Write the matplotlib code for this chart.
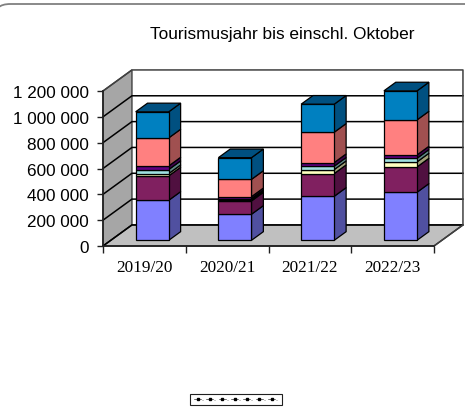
import matplotlib
matplotlib.use("Agg")
import matplotlib.pyplot as plt
from matplotlib.lines import Line2D
from matplotlib.patches import FancyBboxPatch, Polygon

YEARS = ["2019/20", "2020/21", "2021/22", "2022/23"]
Y_TICKS = [0, 200000, 400000, 600000, 800000, 1000000, 1200000]
Y_LABELS = ["0", "200 000", "400 000", "600 000", "800 000", "1 000 000", "1 200 000"]
TITLE = "Tourismusjahr bis einschl. Oktober"

# stacked from the floor upwards, names of the series are unreadable in the legend
SERIES_1 = [310000, 202000, 341000, 372000]
SERIES_2 = [189000, 103000, 176000, 196000]
SERIES_3 = [18000, 8000, 31000, 39000]
SERIES_4 = [31000, 10000, 26000, 28000]
SERIES_5 = [28000, 15000, 28000, 26000]
SERIES_6 = [217000, 134000, 235000, 271000]
SERIES_7 = [202000, 168000, 217000, 225000]

FRONT_COLORS = ["#8080ff", "#802060", "#ffffc0", "#a0e0e0", "#600080", "#ff8080", "#0080c0"]
SIDE_COLORS = ["#5050a0", "#501040", "#a0a078", "#608888", "#400050", "#a05050", "#005080"]
TOP_COLOR = "#005080"

# depth of the fake 3d box, in data units
DEPTH_X = 0.35
DEPTH_Y = 163000
BAR_WIDTH = 0.40
BAR_START = 0.27
BAR_DEPTH = 0.41


def shift(x, y, depth):
    return (x + DEPTH_X * depth, y + DEPTH_Y * depth)


def draw_box(ax):
    x_max = len(YEARS)
    y_max = Y_TICKS[-1]
    ax.add_patch(Polygon([shift(0, 0, 0), shift(0, 0, 1), shift(0, y_max, 1), shift(0, y_max, 0)],
                         facecolor="#a6a6a6", edgecolor="#404040", lw=1, clip_on=False, zorder=1))
    ax.add_patch(Polygon([shift(0, 0, 0), shift(x_max, 0, 0), shift(x_max, 0, 1), shift(0, 0, 1)],
                         facecolor="#c0c0c0", edgecolor="#202020", lw=1, clip_on=False, zorder=1))
    for tick in Y_TICKS[:-1]:
        ax.plot(*zip(shift(0, tick, 0), shift(0, tick, 1), shift(x_max, tick, 1)),
                color="black", lw=1.1, clip_on=False, zorder=1.5)
    ax.plot(*zip(shift(0, y_max, 0), shift(0, y_max, 1), shift(x_max, y_max, 1), shift(x_max, 0, 1), shift(x_max, 0, 0)),
            color="#404040", lw=1.1, clip_on=False, zorder=1.5)


def draw_bars(ax):
    series = [SERIES_1, SERIES_2, SERIES_3, SERIES_4, SERIES_5, SERIES_6, SERIES_7]
    base_x, base_y = shift(0, 0, BAR_START)
    for i in range(len(YEARS)):
        left = i + 0.5 + base_x - BAR_WIDTH / 2
        right = left + BAR_WIDTH
        bottom = base_y
        for values, front, side in zip(series, FRONT_COLORS, SIDE_COLORS):
            top = bottom + values[i]
            ax.add_patch(Polygon([(right, bottom), shift(right, bottom, BAR_DEPTH),
                                  shift(right, top, BAR_DEPTH), (right, top)],
                                 facecolor=side, edgecolor="black", lw=0.9, clip_on=False, zorder=2))
            ax.bar(left, values[i], width=BAR_WIDTH, bottom=bottom, align="edge",
                   color=front, edgecolor="black", lw=0.9, clip_on=False, zorder=3)
            bottom = top
        ax.add_patch(Polygon([(left, bottom), (right, bottom), shift(right, bottom, BAR_DEPTH),
                              shift(left, bottom, BAR_DEPTH)],
                             facecolor=TOP_COLOR, edgecolor="black", lw=0.9, clip_on=False, zorder=3))


def main():
    fig = plt.figure(figsize=(4.65, 4.10), dpi=100)

    fig.add_artist(FancyBboxPatch((-6 / 465, -0.2), 1.2, 1.2 - 5 / 410,
                                  boxstyle="round,pad=0,rounding_size=0.035",
                                  transform=fig.transFigure, facecolor="white",
                                  edgecolor="#808080", lw=1.3, zorder=-1))

    ax = fig.add_axes([103 / 465, 163 / 410, 331 / 465, 155 / 410])
    ax.patch.set_visible(False)
    ax.set_xlim(0, len(YEARS))
    ax.set_ylim(0, Y_TICKS[-1])

    draw_box(ax)
    draw_bars(ax)

    for name in ["top", "right"]:
        ax.spines[name].set_visible(False)
    for name in ["left", "bottom"]:
        ax.spines[name].set_color("#202020")
        ax.spines[name].set_linewidth(1.2)
        ax.spines[name].set_zorder(1.8)

    ax.set_yticks(Y_TICKS)
    ax.set_yticklabels(Y_LABELS, family="Liberation Sans", fontsize=12.3)
    ax.tick_params(axis="y", length=4, width=1, pad=6, color="#202020")

    ax.set_xticks(range(len(YEARS) + 1))
    ax.set_xticklabels([])
    ax.set_xticks([i + 0.5 for i in range(len(YEARS))], minor=True)
    ax.set_xticklabels(YEARS, minor=True, family="Liberation Serif", fontsize=12.4)
    ax.tick_params(axis="x", which="major", length=5, width=1, color="#202020")
    ax.tick_params(axis="x", which="minor", length=0, pad=9.5)

    fig.text(282.5 / 465, 1 - 34.5 / 410, TITLE, family="Liberation Sans", fontsize=12.4,
             ha="center", va="center")

    handles = [Line2D([], [], color="black", lw=0.4, marker="s", ms=1.8) for _ in FRONT_COLORS]
    labels = ["\u2013"] * len(handles)
    legend = fig.legend(handles, labels, ncol=len(handles), loc="center",
                        bbox_to_anchor=(236 / 465, 1 - 400.5 / 410), fontsize=3,
                        handlelength=1.7, handletextpad=0.2, columnspacing=0.55,
                        borderpad=0.9, fancybox=False, framealpha=1, edgecolor="#202020")
    legend.get_frame().set_linewidth(0.8)

    fig.savefig("out.png", dpi=100)


if __name__ == '__main__':
    main()
